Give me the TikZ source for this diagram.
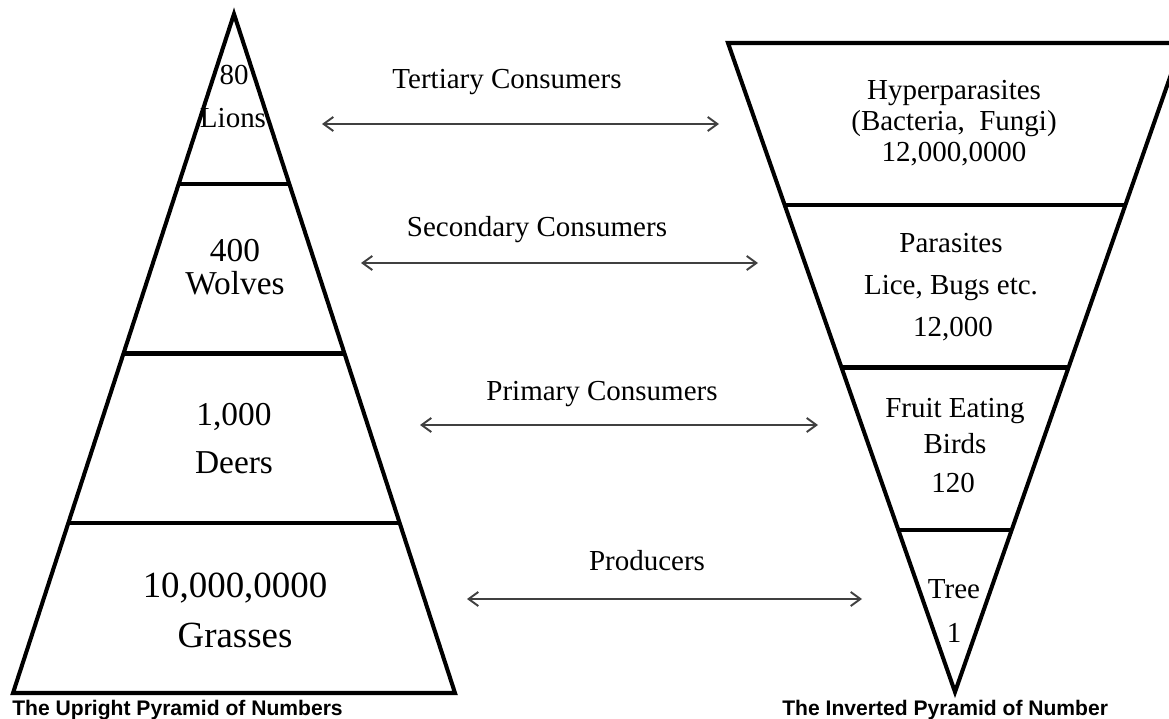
\documentclass[tikz,border=0pt]{standalone}
\usepackage{fontspec}
\setmainfont{Liberation Serif}
\setsansfont{Liberation Sans}
\usetikzlibrary{arrows.meta,calc}
\begin{document}
\begin{tikzpicture}[x=0.02cm,y=-0.02cm,line join=miter,
  tier/.style={line width=2.3pt},
  link/.style={line width=1.1pt,draw=black!75,{Straight Barb[length=5.5pt,width=8pt]}-{Straight Barb[length=5.5pt,width=8pt]}},
  txt/.style={font=\fontsize{16.5}{20}\selectfont,anchor=base,inner sep=0pt},
  midtxt/.style={font=\fontsize{19}{23}\selectfont,anchor=base,inner sep=0pt},
  bigtxt/.style={font=\fontsize{21}{25}\selectfont,anchor=base,inner sep=0pt},
  caption/.style={font=\sffamily\bfseries\fontsize{12}{14}\selectfont,anchor=base west,inner sep=0pt}]
  \useasboundingbox (0,0) rectangle (1169,719);
  % upright pyramid
  \coordinate (UA) at (234,14); \coordinate (UL) at (13,693); \coordinate (UR) at (455,693);
  \draw[tier] (UA) -- (UL) -- (UR) -- cycle;
  \foreach \t in {0.25,0.5,0.75}
    \draw[tier] ($(UA)!\t!(UL)$) -- ($(UA)!\t!(UR)$);
  % inverted pyramid
  \coordinate (IA) at (955,692); \coordinate (IL) at (728,43); \coordinate (IR) at (1182,43);
  \draw[tier] (IA) -- (IL) -- (IR) -- cycle;
  \foreach \t in {0.25,0.5,0.75}
    \draw[tier] ($(IL)!\t!(IA)$) -- ($(IR)!\t!(IA)$);
  % upright levels
  \node[txt] (lionsN) at (234,85) {80};
  \node[txt] (lions) at (233,128) {Lions};
  \node[midtxt] (wolvesN) at (235,262) {400};
  \node[midtxt] (wolves) at (235,295) {Wolves};
  \node[midtxt] (deersN) at (234,425) {1,000};
  \node[midtxt] (deers) at (234,473) {Deers};
  \node[bigtxt] (grassN) at (235,597) {10,000,0000};
  \node[bigtxt] (grass) at (235,647) {Grasses};
  % inverted levels
  \node[txt] (hyper) at (954,100) {Hyperparasites};
  \node[txt] (hyperB) at (954,131) {(Bacteria,~ Fungi)};
  \node[txt] (hyperN) at (954,162) {12,000,0000};
  \node[txt] (para) at (951,253) {Parasites};
  \node[txt] (paraB) at (951,295) {Lice, Bugs etc.};
  \node[txt] (paraN) at (953,337) {12,000};
  \node[txt] (birds) at (955,417) {Fruit Eating};
  \node[txt] (birdsB) at (955,453) {Birds};
  \node[txt] (birdsN) at (953,492) {120};
  \node[txt] (tree) at (954,598) {Tree};
  \node[txt] (treeN) at (954,642) {1};
  % trophic links
  \coordinate (t1a) at (322,124); \coordinate (t1b) at (719,124);
  \coordinate (t2a) at (361,263); \coordinate (t2b) at (758,263);
  \coordinate (t3a) at (420,425); \coordinate (t3b) at (818,425);
  \coordinate (t4a) at (467,599); \coordinate (t4b) at (862,599);
  \draw[link] (t1a) -- (t1b); \draw[link] (t2a) -- (t2b);
  \draw[link] (t3a) -- (t3b); \draw[link] (t4a) -- (t4b);
  \node[txt] (tert) at (507,89) {Tertiary Consumers};
  \node[txt] (sec) at (537,237) {Secondary Consumers};
  \node[txt] (prim) at (602,400) {Primary Consumers};
  \node[txt] (prod) at (647,570) {Producers};
  % captions
  \node[caption] (capU) at (12,715) {The Upright Pyramid of Numbers};
  \node[caption] (capI) at (782,715) {The Inverted Pyramid of Number};
\end{tikzpicture}
\end{document}
